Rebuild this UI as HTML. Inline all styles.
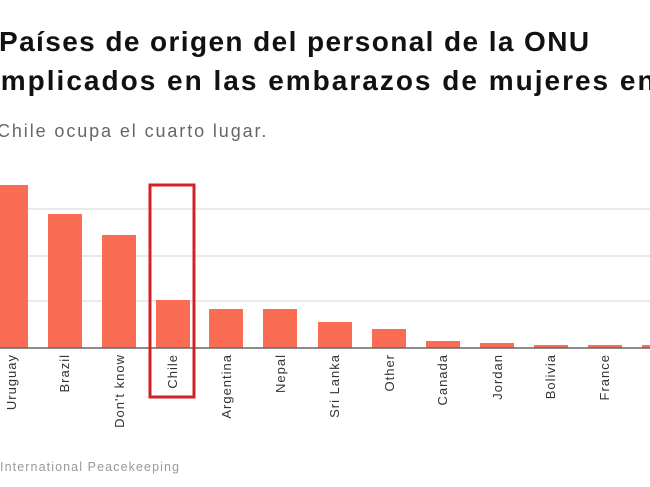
<!DOCTYPE html>
<html><head><meta charset="utf-8"><style>
body{margin:0;width:650px;height:487px;overflow:hidden;background:#fff;font-family:"Liberation Sans",sans-serif;position:relative}
.t{position:absolute;font-weight:bold;font-size:28px;color:#111;white-space:nowrap;letter-spacing:1.4px}
.s{position:absolute;font-size:18px;color:#666;white-space:nowrap;letter-spacing:1.9px}
.src{position:absolute;font-size:12.5px;color:#999;white-space:nowrap;letter-spacing:1.1px}
</style></head><body>
<div class="t" style="left:-1px;top:26px">Países de origen del personal de la ONU</div>
<div class="t" style="left:-9px;top:65px;letter-spacing:2px">Implicados en las embarazos de mujeres en</div>
<div class="s" style="left:-3px;top:121px">Chile ocupa el cuarto lugar.</div>
<svg width="650" height="487" style="position:absolute;left:0;top:0" font-family="Liberation Sans, sans-serif">
<g stroke="#e4e4e4" stroke-width="1.5">
<line x1="0" x2="650" y1="209" y2="209"/><line x1="0" x2="650" y1="256" y2="256"/><line x1="0" x2="650" y1="301" y2="301"/>
</g>
<g fill="#fb6c55">
<rect x="-6" y="185" width="34" height="163"/>
<rect x="48" y="214" width="34" height="134"/>
<rect x="102" y="235" width="34" height="113"/>
<rect x="156" y="300" width="34" height="48"/>
<rect x="209" y="309" width="34" height="39"/>
<rect x="263" y="309" width="34" height="39"/>
<rect x="318" y="322" width="34" height="26"/>
<rect x="372" y="329" width="34" height="19"/>
<rect x="426" y="341" width="34" height="7"/>
<rect x="480" y="343" width="34" height="5"/>
<rect x="534" y="345" width="34" height="3"/>
<rect x="588" y="345" width="34" height="3"/>
<rect x="642" y="345" width="34" height="3"/>
</g>
<line x1="0" x2="650" y1="348" y2="348" stroke="#666" stroke-width="1.5"/>
<g font-size="13" fill="#333" text-anchor="end" letter-spacing="1">
<text transform="translate(16,354) rotate(-90)">Uruguay</text>
<text transform="translate(69,354) rotate(-90)">Brazil</text>
<text transform="translate(124,354) rotate(-90)">Don't know</text>
<text transform="translate(177,354) rotate(-90)">Chile</text>
<text transform="translate(231,354) rotate(-90)">Argentina</text>
<text transform="translate(285,354) rotate(-90)">Nepal</text>
<text transform="translate(339,354) rotate(-90)">Sri Lanka</text>
<text transform="translate(394,354) rotate(-90)">Other</text>
<text transform="translate(447,354) rotate(-90)">Canada</text>
<text transform="translate(502,354) rotate(-90)">Jordan</text>
<text transform="translate(555,354) rotate(-90)">Bolivia</text>
<text transform="translate(609,354) rotate(-90)">France</text>
</g>
<rect x="150" y="185" width="44" height="212" fill="none" stroke="#d0202a" stroke-width="3"/>
</svg>
<div class="src" style="left:0;top:460px">International Peacekeeping</div>
</body></html>
